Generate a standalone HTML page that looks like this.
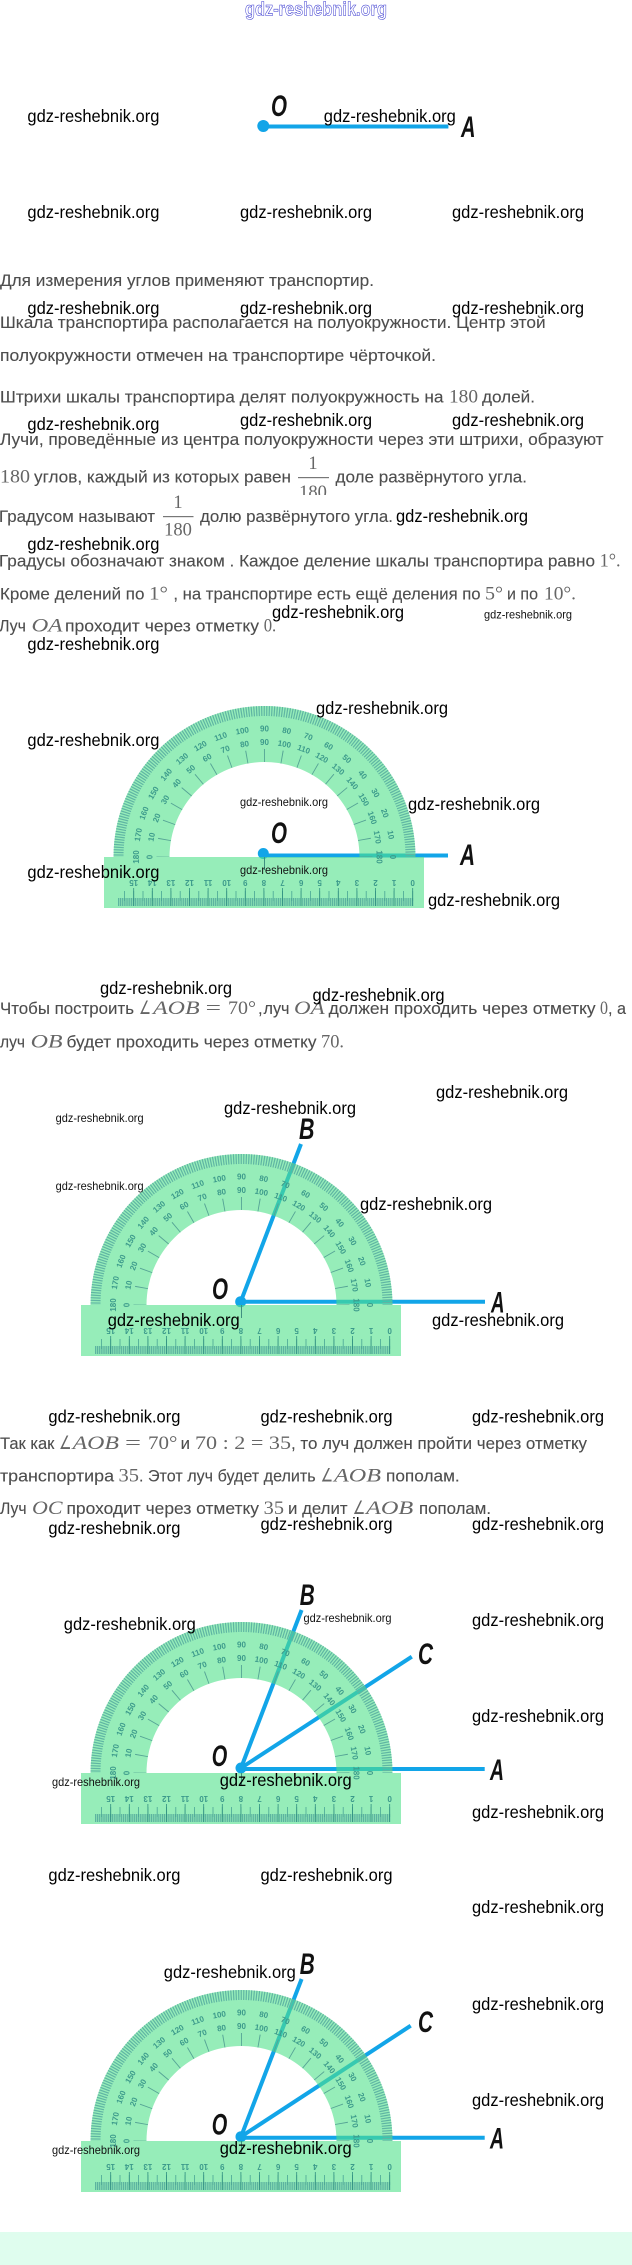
<!DOCTYPE html>
<html lang="ru">
<head>
<meta charset="utf-8">
<title>Транспортир</title>
<style>
html,body{margin:0;padding:0;background:#fff}
svg{display:block}
.t{font:16.5px "Liberation Sans",sans-serif;fill:#4d4d4d;stroke:#4d4d4d;stroke-width:.12}
.m{font:18.5px "Liberation Serif",serif;fill:#666}
.i{font-style:italic}
.w{font:17.5px "Liberation Sans",sans-serif;fill:#000}
.s{font:11.6px "Liberation Sans",sans-serif;fill:#111}
.l{font:italic bold 30px "Liberation Sans",sans-serif;fill:#111}
.n{font:bold 8px "Liberation Sans",sans-serif;fill:#3c9a8b;text-anchor:middle}
.top{font:bold 19px "Liberation Sans",sans-serif;fill:#fff;stroke:#3a3ad0;stroke-width:.55}
.ray{stroke:#12a5e8;stroke-width:4;stroke-linecap:butt}
</style>
</head>
<body>
<svg xmlns="http://www.w3.org/2000/svg" width="632" height="2265" viewBox="0 0 632 2265">
<defs>
<clipPath id="cf"><rect x="290" y="480" width="50" height="15"/></clipPath>
<g id="p">
  <path d="M151,0 A151,151 0 0 0 -151,0 L-95,0 A95,95 0 0 1 95,0 Z" fill="#50e18a" fill-opacity=".6"/>
  <rect x="-160.5" y="0" width="320" height="51" fill="#50e18a" fill-opacity=".6"/>
  <path d="M146,0 A146,146 0 0 0 -146,0" fill="none" stroke="#5fb5a3" stroke-width="10" stroke-dasharray="1.2 1.35" stroke-dashoffset=".6"/>
  <path d="M101.5,0 A101.5,101.5 0 0 0 -101.5,0" fill="none" stroke="#55a395" stroke-width="13" stroke-dasharray=".9 16.815" stroke-dashoffset=".45"/>
  <path d="M148.6,45 H-147" fill="none" stroke="#5cb3a0" stroke-width="8" stroke-dasharray="1.2 .66"/>
  <path d="M148.6,39 H-147" fill="none" stroke="#4aa595" stroke-width="10" stroke-dasharray=".8 8.5"/>
  <path d="M148.6,40 H-147" fill="none" stroke="#2f8f80" stroke-width="18" stroke-dasharray=".8 17.8"/>
  <path d="M0,0 V13" stroke="#3f8f80" stroke-width="1"/>
  <!-- outer scale -->
  <text class="n" transform="rotate(90)" y="-125.5">0</text>
  <text class="n" transform="rotate(80)" y="-125.5">10</text>
  <text class="n" transform="rotate(70)" y="-125.5">20</text>
  <text class="n" transform="rotate(60)" y="-125.5">30</text>
  <text class="n" transform="rotate(50)" y="-125.5">40</text>
  <text class="n" transform="rotate(40)" y="-125.5">50</text>
  <text class="n" transform="rotate(30)" y="-125.5">60</text>
  <text class="n" transform="rotate(20)" y="-125.5">70</text>
  <text class="n" transform="rotate(10)" y="-125.5">80</text>
  <text class="n" transform="rotate(0)" y="-125.5">90</text>
  <text class="n" transform="rotate(-10)" y="-125.5">100</text>
  <text class="n" transform="rotate(-20)" y="-125.5">110</text>
  <text class="n" transform="rotate(-30)" y="-125.5">120</text>
  <text class="n" transform="rotate(-40)" y="-125.5">130</text>
  <text class="n" transform="rotate(-50)" y="-125.5">140</text>
  <text class="n" transform="rotate(-60)" y="-125.5">150</text>
  <text class="n" transform="rotate(-70)" y="-125.5">160</text>
  <text class="n" transform="rotate(-80)" y="-125.5">170</text>
  <text class="n" transform="rotate(-90)" y="-125.5">180</text>
  <!-- inner scale -->
  <text class="n" transform="rotate(90)" y="-112">180</text>
  <text class="n" transform="rotate(80)" y="-112">170</text>
  <text class="n" transform="rotate(70)" y="-112">160</text>
  <text class="n" transform="rotate(60)" y="-112">150</text>
  <text class="n" transform="rotate(50)" y="-112">140</text>
  <text class="n" transform="rotate(40)" y="-112">130</text>
  <text class="n" transform="rotate(30)" y="-112">120</text>
  <text class="n" transform="rotate(20)" y="-112">110</text>
  <text class="n" transform="rotate(10)" y="-112">100</text>
  <text class="n" transform="rotate(0)" y="-112">90</text>
  <text class="n" transform="rotate(-10)" y="-112">80</text>
  <text class="n" transform="rotate(-20)" y="-112">70</text>
  <text class="n" transform="rotate(-30)" y="-112">60</text>
  <text class="n" transform="rotate(-40)" y="-112">50</text>
  <text class="n" transform="rotate(-50)" y="-112">40</text>
  <text class="n" transform="rotate(-60)" y="-112">30</text>
  <text class="n" transform="rotate(-70)" y="-112">20</text>
  <text class="n" transform="rotate(-80)" y="-112">10</text>
  <text class="n" transform="rotate(-90)" y="-112">0</text>
  <!-- ruler -->
  <text class="n" transform="translate(148.2,25.7) rotate(180)" y="2.6">0</text>
  <text class="n" transform="translate(129.6,25.7) rotate(180)" y="2.6">1</text>
  <text class="n" transform="translate(111,25.7) rotate(180)" y="2.6">2</text>
  <text class="n" transform="translate(92.4,25.7) rotate(180)" y="2.6">3</text>
  <text class="n" transform="translate(73.8,25.7) rotate(180)" y="2.6">4</text>
  <text class="n" transform="translate(55.2,25.7) rotate(180)" y="2.6">5</text>
  <text class="n" transform="translate(36.6,25.7) rotate(180)" y="2.6">6</text>
  <text class="n" transform="translate(18,25.7) rotate(180)" y="2.6">7</text>
  <text class="n" transform="translate(-0.6,25.7) rotate(180)" y="2.6">8</text>
  <text class="n" transform="translate(-19.2,25.7) rotate(180)" y="2.6">9</text>
  <text class="n" transform="translate(-37.8,25.7) rotate(180)" y="2.6">10</text>
  <text class="n" transform="translate(-56.4,25.7) rotate(180)" y="2.6">11</text>
  <text class="n" transform="translate(-75,25.7) rotate(180)" y="2.6">12</text>
  <text class="n" transform="translate(-93.6,25.7) rotate(180)" y="2.6">13</text>
  <text class="n" transform="translate(-112.2,25.7) rotate(180)" y="2.6">14</text>
  <text class="n" transform="translate(-130.8,25.7) rotate(180)" y="2.6">15</text>
</g>
</defs>

<rect width="632" height="2265" fill="#fff"/>
<rect x="0" y="2232" width="632" height="33" fill="#dffdee"/>

<!-- top figure -->
<line class="ray" x1="263" y1="126.5" x2="448.4" y2="126.5"/>
<circle cx="263.3" cy="126" r="6" fill="#12a5e8"/>
<text class="l" x="271" y="116" textLength="16" lengthAdjust="spacingAndGlyphs">O</text>
<text class="l" x="461" y="137" textLength="14.5" lengthAdjust="spacingAndGlyphs">A</text>

<!-- body text -->
<text class="t" x="0" y="286" textLength="374" lengthAdjust="spacingAndGlyphs">Для измерения углов применяют транспортир.</text>
<text class="t" x="0" y="328" textLength="545.6" lengthAdjust="spacingAndGlyphs">Шкала транспортира располагается на полуокружности. Центр этой</text>
<text class="t" x="0" y="361" textLength="436" lengthAdjust="spacingAndGlyphs">полуокружности отмечен на транспортире чёрточкой.</text>

<text class="t" x="0" y="402.7" textLength="443.5" lengthAdjust="spacingAndGlyphs">Штрихи шкалы транспортира делят полуокружность на</text>
<text class="m" x="449" y="402.7" textLength="29" lengthAdjust="spacingAndGlyphs">180</text>
<text class="t" x="482" y="402.7" textLength="53" lengthAdjust="spacingAndGlyphs">долей.</text>

<text class="t" x="0" y="445" textLength="603.6" lengthAdjust="spacingAndGlyphs">Лучи, проведённые из центра полуокружности через эти штрихи, образуют</text>

<text class="m" x="0" y="482.7" textLength="30" lengthAdjust="spacingAndGlyphs">180</text>
<text class="t" x="34" y="482.7" textLength="257" lengthAdjust="spacingAndGlyphs">углов, каждый из которых равен</text>
<text class="m" x="313" y="469" text-anchor="middle">1</text>
<rect x="298" y="477" width="31" height="1.2" fill="#777"/>
<g clip-path="url(#cf)"><text class="m" x="313" y="498" text-anchor="middle">180</text></g>
<text class="t" x="335.5" y="482.7" textLength="191.5" lengthAdjust="spacingAndGlyphs">доле развёрнутого угла.</text>

<text class="t" x="-1" y="522" textLength="156" lengthAdjust="spacingAndGlyphs">Градусом называют</text>
<text class="m" x="178" y="508" text-anchor="middle">1</text>
<rect x="163" y="516" width="30.5" height="1.2" fill="#777"/>
<text class="m" x="178" y="535.7" text-anchor="middle">180</text>
<text class="t" x="200" y="522" textLength="193" lengthAdjust="spacingAndGlyphs">долю развёрнутого угла.</text>

<text class="t" x="-1" y="566.7" textLength="596" lengthAdjust="spacingAndGlyphs">Градусы обозначают знаком . Каждое деление шкалы транспортира равно</text>
<text class="m" x="599.6" y="566.7" textLength="21" lengthAdjust="spacingAndGlyphs">1°.</text>

<text class="t" x="0" y="599.3" textLength="144.4" lengthAdjust="spacingAndGlyphs">Кроме делений по</text>
<text class="m" x="149" y="599.3" textLength="19" lengthAdjust="spacingAndGlyphs">1°</text>
<text class="t" x="173.4" y="599.3" textLength="307.2" lengthAdjust="spacingAndGlyphs">, на транспортире есть ещё деления по</text>
<text class="m" x="485" y="599.3" textLength="18" lengthAdjust="spacingAndGlyphs">5°</text>
<text class="t" x="507" y="599.3" textLength="31" lengthAdjust="spacingAndGlyphs">и по</text>
<text class="m" x="544" y="599.3" textLength="32" lengthAdjust="spacingAndGlyphs">10°.</text>

<text class="t" x="-1" y="631.3" textLength="27" lengthAdjust="spacingAndGlyphs">Луч</text>
<text class="m i" x="31.5" y="631.3" textLength="31" lengthAdjust="spacingAndGlyphs">OA</text>
<text class="t" x="65" y="631.3" textLength="194" lengthAdjust="spacingAndGlyphs">проходит через отметку</text>
<text class="m" x="263.7" y="631.3" textLength="12.5" lengthAdjust="spacingAndGlyphs">0.</text>

<text class="t" x="0" y="1014" textLength="134" lengthAdjust="spacingAndGlyphs">Чтобы построить</text>
<text class="m" x="139" y="1014" textLength="12" lengthAdjust="spacingAndGlyphs">∠</text>
<text class="m i" x="153" y="1014" textLength="46.6" lengthAdjust="spacingAndGlyphs">AOB</text>
<text class="m" x="205.6" y="1014" textLength="15.4" lengthAdjust="spacingAndGlyphs">=</text>
<text class="m" x="228" y="1014" textLength="28" lengthAdjust="spacingAndGlyphs">70°</text>
<text class="t" x="258" y="1014">,</text>
<text class="t" x="263.5" y="1014" textLength="26" lengthAdjust="spacingAndGlyphs">луч</text>
<text class="m i" x="294" y="1014" textLength="30.6" lengthAdjust="spacingAndGlyphs">OA</text>
<text class="t" x="328.6" y="1014" textLength="267" lengthAdjust="spacingAndGlyphs">должен проходить через отметку</text>
<text class="m" x="600" y="1014" textLength="8" lengthAdjust="spacingAndGlyphs">0</text>
<text class="t" x="608" y="1014" textLength="18" lengthAdjust="spacingAndGlyphs">, а</text>

<text class="t" x="0" y="1047.3" textLength="25" lengthAdjust="spacingAndGlyphs">луч</text>
<text class="m i" x="30.6" y="1047.3" textLength="32" lengthAdjust="spacingAndGlyphs">OB</text>
<text class="t" x="66.5" y="1047.3" textLength="250" lengthAdjust="spacingAndGlyphs">будет проходить через отметку</text>
<text class="m" x="321" y="1047.3" textLength="23" lengthAdjust="spacingAndGlyphs">70.</text>

<text class="t" x="0" y="1449" textLength="54.4" lengthAdjust="spacingAndGlyphs">Так как</text>
<text class="m" x="59" y="1449" textLength="12.5" lengthAdjust="spacingAndGlyphs">∠</text>
<text class="m i" x="72.6" y="1449" textLength="46.4" lengthAdjust="spacingAndGlyphs">AOB</text>
<text class="m" x="125" y="1449" textLength="16" lengthAdjust="spacingAndGlyphs">=</text>
<text class="m" x="148" y="1449" textLength="29.4" lengthAdjust="spacingAndGlyphs">70°</text>
<text class="t" x="180.6" y="1449" textLength="9.4" lengthAdjust="spacingAndGlyphs">и</text>
<text class="m" x="195" y="1449" textLength="96" lengthAdjust="spacingAndGlyphs">70 : 2 = 35</text>
<text class="t" x="291" y="1449" textLength="296" lengthAdjust="spacingAndGlyphs">, то луч должен пройти через отметку</text>

<text class="t" x="0" y="1481.7" textLength="114" lengthAdjust="spacingAndGlyphs">транспортира</text>
<text class="m" x="118.5" y="1481.7" textLength="20.5" lengthAdjust="spacingAndGlyphs">35</text>
<text class="t" x="139" y="1481.7" textLength="176.7" lengthAdjust="spacingAndGlyphs">. Этот луч будет делить</text>
<text class="m" x="320.6" y="1481.7" textLength="12.5" lengthAdjust="spacingAndGlyphs">∠</text>
<text class="m i" x="334" y="1481.7" textLength="47" lengthAdjust="spacingAndGlyphs">AOB</text>
<text class="t" x="386" y="1481.7" textLength="73.7" lengthAdjust="spacingAndGlyphs">пополам.</text>

<text class="t" x="0" y="1514" textLength="26.6" lengthAdjust="spacingAndGlyphs">Луч</text>
<text class="m i" x="32" y="1514" textLength="30.5" lengthAdjust="spacingAndGlyphs">OC</text>
<text class="t" x="66.5" y="1514" textLength="192.5" lengthAdjust="spacingAndGlyphs">проходит через отметку</text>
<text class="m" x="263.7" y="1514" textLength="20.3" lengthAdjust="spacingAndGlyphs">35</text>
<text class="t" x="288" y="1514" textLength="59.6" lengthAdjust="spacingAndGlyphs">и делит</text>
<text class="m" x="352.8" y="1514" textLength="12.5" lengthAdjust="spacingAndGlyphs">∠</text>
<text class="m i" x="366" y="1514" textLength="47.3" lengthAdjust="spacingAndGlyphs">AOB</text>
<text class="t" x="419" y="1514" textLength="72" lengthAdjust="spacingAndGlyphs">пополам.</text>

<!-- figure 1 -->
<line class="ray" x1="263" y1="855.5" x2="448" y2="855.5"/>
<circle cx="263.3" cy="853.5" r="5.5" fill="#12a5e8"/>
<use href="#p" x="264.5" y="857"/>
<text class="l" x="271" y="843" textLength="16" lengthAdjust="spacingAndGlyphs">O</text>
<text class="l" x="460" y="865" textLength="15" lengthAdjust="spacingAndGlyphs">A</text>

<!-- figure 2 -->
<line class="ray" x1="240.7" y1="1301.7" x2="485" y2="1301.7"/>
<line class="ray" x1="240.7" y1="1301.7" x2="301" y2="1144"/>
<circle cx="240.7" cy="1301.7" r="5.5" fill="#12a5e8"/>
<use href="#p" x="241.5" y="1305"/>
<text class="l" x="212" y="1299" textLength="16" lengthAdjust="spacingAndGlyphs">O</text>
<text class="l" x="491" y="1312.7" textLength="13.5" lengthAdjust="spacingAndGlyphs">A</text>
<text class="l" x="299" y="1139" textLength="15.5" lengthAdjust="spacingAndGlyphs">B</text>

<!-- figure 3 -->
<line class="ray" x1="241" y1="1769" x2="484.7" y2="1769"/>
<line class="ray" x1="241" y1="1768" x2="301.6" y2="1610"/>
<line class="ray" x1="241" y1="1768" x2="411.8" y2="1656.7"/>
<circle cx="241" cy="1768" r="5.5" fill="#12a5e8"/>
<use href="#p" x="241.5" y="1773"/>
<text class="l" x="211.8" y="1766" textLength="15.5" lengthAdjust="spacingAndGlyphs">O</text>
<text class="l" x="490" y="1780" textLength="14" lengthAdjust="spacingAndGlyphs">A</text>
<text class="l" x="299.7" y="1605" textLength="15" lengthAdjust="spacingAndGlyphs">B</text>
<text class="l" x="418" y="1664" textLength="15" lengthAdjust="spacingAndGlyphs">C</text>

<!-- figure 4 -->
<line class="ray" x1="241" y1="2137.7" x2="484.7" y2="2137.7"/>
<line class="ray" x1="241" y1="2136.7" x2="301.6" y2="1979"/>
<line class="ray" x1="241" y1="2136.7" x2="410.7" y2="2025.7"/>
<circle cx="241" cy="2136.7" r="5.5" fill="#12a5e8"/>
<use href="#p" x="241.5" y="2141"/>
<text class="l" x="211.8" y="2134.7" textLength="15.5" lengthAdjust="spacingAndGlyphs">O</text>
<text class="l" x="490" y="2148.7" textLength="14" lengthAdjust="spacingAndGlyphs">A</text>
<text class="l" x="299.7" y="1974" textLength="15" lengthAdjust="spacingAndGlyphs">B</text>
<text class="l" x="418" y="2032" textLength="15" lengthAdjust="spacingAndGlyphs">C</text>

<!-- watermarks -->
<text class="top" x="245" y="15.5" textLength="142" lengthAdjust="spacingAndGlyphs">gdz-reshebnik.org</text>

<text class="w" x="27.4" y="122" textLength="132" lengthAdjust="spacingAndGlyphs">gdz-reshebnik.org</text>
<text class="w" x="323.8" y="122" textLength="132" lengthAdjust="spacingAndGlyphs">gdz-reshebnik.org</text>
<text class="w" x="27.4" y="218" textLength="132" lengthAdjust="spacingAndGlyphs">gdz-reshebnik.org</text>
<text class="w" x="240" y="218" textLength="132" lengthAdjust="spacingAndGlyphs">gdz-reshebnik.org</text>
<text class="w" x="452" y="218" textLength="132" lengthAdjust="spacingAndGlyphs">gdz-reshebnik.org</text>
<text class="w" x="27.4" y="314" textLength="132" lengthAdjust="spacingAndGlyphs">gdz-reshebnik.org</text>
<text class="w" x="240" y="314" textLength="132" lengthAdjust="spacingAndGlyphs">gdz-reshebnik.org</text>
<text class="w" x="452" y="314" textLength="132" lengthAdjust="spacingAndGlyphs">gdz-reshebnik.org</text>
<text class="w" x="27.4" y="430" textLength="132" lengthAdjust="spacingAndGlyphs">gdz-reshebnik.org</text>
<text class="w" x="240" y="426" textLength="132" lengthAdjust="spacingAndGlyphs">gdz-reshebnik.org</text>
<text class="w" x="452" y="426" textLength="132" lengthAdjust="spacingAndGlyphs">gdz-reshebnik.org</text>
<text class="w" x="396" y="522" textLength="132" lengthAdjust="spacingAndGlyphs">gdz-reshebnik.org</text>
<text class="w" x="27.4" y="550" textLength="132" lengthAdjust="spacingAndGlyphs">gdz-reshebnik.org</text>
<text class="w" x="272" y="618" textLength="132" lengthAdjust="spacingAndGlyphs">gdz-reshebnik.org</text>
<text class="s" x="484" y="618.3" textLength="88" lengthAdjust="spacingAndGlyphs">gdz-reshebnik.org</text>
<text class="w" x="27.4" y="650" textLength="132" lengthAdjust="spacingAndGlyphs">gdz-reshebnik.org</text>

<text class="w" x="316" y="714" textLength="132" lengthAdjust="spacingAndGlyphs">gdz-reshebnik.org</text>
<text class="w" x="27.4" y="746" textLength="132" lengthAdjust="spacingAndGlyphs">gdz-reshebnik.org</text>
<text class="s" x="240" y="806" textLength="88" lengthAdjust="spacingAndGlyphs">gdz-reshebnik.org</text>
<text class="w" x="408" y="810" textLength="132" lengthAdjust="spacingAndGlyphs">gdz-reshebnik.org</text>
<text class="w" x="27.4" y="878" textLength="132" lengthAdjust="spacingAndGlyphs">gdz-reshebnik.org</text>
<text class="s" x="240" y="874" textLength="88" lengthAdjust="spacingAndGlyphs">gdz-reshebnik.org</text>
<text class="w" x="428" y="906" textLength="132" lengthAdjust="spacingAndGlyphs">gdz-reshebnik.org</text>

<text class="w" x="100" y="994" textLength="132" lengthAdjust="spacingAndGlyphs">gdz-reshebnik.org</text>
<text class="w" x="312.5" y="1001" textLength="132" lengthAdjust="spacingAndGlyphs">gdz-reshebnik.org</text>
<text class="w" x="436" y="1098" textLength="132" lengthAdjust="spacingAndGlyphs">gdz-reshebnik.org</text>
<text class="w" x="224" y="1114" textLength="132" lengthAdjust="spacingAndGlyphs">gdz-reshebnik.org</text>
<text class="s" x="55.6" y="1122" textLength="88" lengthAdjust="spacingAndGlyphs">gdz-reshebnik.org</text>
<text class="s" x="55.6" y="1190" textLength="88" lengthAdjust="spacingAndGlyphs">gdz-reshebnik.org</text>
<text class="w" x="360" y="1210" textLength="132" lengthAdjust="spacingAndGlyphs">gdz-reshebnik.org</text>
<text class="w" x="107.7" y="1326" textLength="132" lengthAdjust="spacingAndGlyphs">gdz-reshebnik.org</text>
<text class="w" x="432" y="1326" textLength="132" lengthAdjust="spacingAndGlyphs">gdz-reshebnik.org</text>

<text class="w" x="48.4" y="1422.7" textLength="132" lengthAdjust="spacingAndGlyphs">gdz-reshebnik.org</text>
<text class="w" x="260.5" y="1422.7" textLength="132" lengthAdjust="spacingAndGlyphs">gdz-reshebnik.org</text>
<text class="w" x="472" y="1422.7" textLength="132" lengthAdjust="spacingAndGlyphs">gdz-reshebnik.org</text>
<text class="w" x="48.4" y="1534" textLength="132" lengthAdjust="spacingAndGlyphs">gdz-reshebnik.org</text>
<text class="w" x="260.5" y="1530" textLength="132" lengthAdjust="spacingAndGlyphs">gdz-reshebnik.org</text>
<text class="w" x="472" y="1530" textLength="132" lengthAdjust="spacingAndGlyphs">gdz-reshebnik.org</text>

<text class="w" x="63.8" y="1630" textLength="132" lengthAdjust="spacingAndGlyphs">gdz-reshebnik.org</text>
<text class="s" x="303.5" y="1622" textLength="88" lengthAdjust="spacingAndGlyphs">gdz-reshebnik.org</text>
<text class="w" x="472" y="1626" textLength="132" lengthAdjust="spacingAndGlyphs">gdz-reshebnik.org</text>
<text class="w" x="472" y="1722" textLength="132" lengthAdjust="spacingAndGlyphs">gdz-reshebnik.org</text>
<text class="s" x="52" y="1786" textLength="88" lengthAdjust="spacingAndGlyphs">gdz-reshebnik.org</text>
<text class="w" x="219.7" y="1786" textLength="132" lengthAdjust="spacingAndGlyphs">gdz-reshebnik.org</text>
<text class="w" x="472" y="1818" textLength="132" lengthAdjust="spacingAndGlyphs">gdz-reshebnik.org</text>

<text class="w" x="48.4" y="1881" textLength="132" lengthAdjust="spacingAndGlyphs">gdz-reshebnik.org</text>
<text class="w" x="260.5" y="1881" textLength="132" lengthAdjust="spacingAndGlyphs">gdz-reshebnik.org</text>
<text class="w" x="472" y="1913" textLength="132" lengthAdjust="spacingAndGlyphs">gdz-reshebnik.org</text>

<text class="w" x="163.8" y="1978" textLength="132" lengthAdjust="spacingAndGlyphs">gdz-reshebnik.org</text>
<text class="w" x="472" y="2010" textLength="132" lengthAdjust="spacingAndGlyphs">gdz-reshebnik.org</text>
<text class="w" x="472" y="2106" textLength="132" lengthAdjust="spacingAndGlyphs">gdz-reshebnik.org</text>
<text class="s" x="52" y="2154" textLength="88" lengthAdjust="spacingAndGlyphs">gdz-reshebnik.org</text>
<text class="w" x="219.7" y="2154" textLength="132" lengthAdjust="spacingAndGlyphs">gdz-reshebnik.org</text>
</svg>
</body>
</html>
